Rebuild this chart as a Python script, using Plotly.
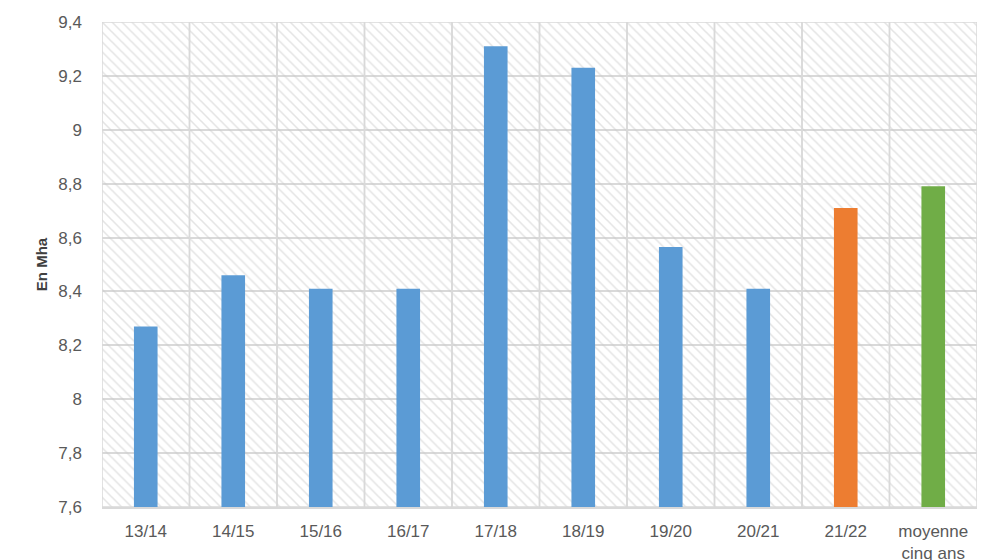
import plotly.graph_objects as go

categories = ["13/14", "14/15", "15/16", "16/17", "17/18", "18/19", "19/20", "20/21", "21/22", "moyenne<br>cinq ans"]
values = [8.27, 8.46, 8.41, 8.41, 9.31, 9.23, 8.565, 8.41, 8.71, 8.79]
bar_colors = ["#5B9BD5"] * 8 + ["#ED7D31", "#70AD47"]
y_min, y_max = 7.6, 9.4
y_ticks = [7.6, 7.8, 8.0, 8.2, 8.4, 8.6, 8.8, 9.0, 9.2, 9.4]
y_tick_labels = ["7,6", "7,8", "8", "8,2", "8,4", "8,6", "8,8", "9", "9,2", "9,4"]
y_title = "En Mha"

font_family = "Liberation Sans, Arial, sans-serif"

fig = go.Figure()

# hatched background cells (one per category)
fig.add_trace(go.Bar(
    x=categories,
    y=[y_max - y_min] * len(categories),
    base=[y_min] * len(categories),
    width=1,
    marker=dict(
        color="rgba(0,0,0,0)",
        line=dict(color="#d9d9d9", width=1.5),
        pattern=dict(shape="\\", fgcolor="#c9c9c9", bgcolor="rgba(0,0,0,0)",
                     size=7, solidity=0.22, fillmode="overlay"),
    ),
    hoverinfo="skip",
    showlegend=False,
))

fig.add_trace(go.Bar(
    x=categories,
    y=[v - y_min for v in values],
    base=[y_min] * len(values),
    width=0.27,
    marker=dict(color=bar_colors, line=dict(width=0)),
    showlegend=False,
))

# the page body adds an 8px offset; the figure is sized to fill the window
fig.update_layout(
    width=992, height=552,
    margin=dict(l=94, r=23, t=14, b=53, autoexpand=False),
    paper_bgcolor="white",
    plot_bgcolor="white",
    barmode="overlay",
    font=dict(family=font_family, size=17, color="#595959"),
)

fig.update_xaxes(
    showgrid=False, automargin=False,
    showline=True, linecolor="#d9d9d9", linewidth=1.5,
    ticks="", ticklabelstandoff=8,
    tickfont=dict(size=17, color="#595959"),
    range=[-0.5, len(categories) - 0.5],
)

fig.update_yaxes(
    range=[y_min, y_max], automargin=False,
    tickvals=y_ticks, ticktext=y_tick_labels,
    showgrid=True, gridcolor="#d9d9d9", gridwidth=1.5,
    zeroline=False, showline=False,
    ticks="", ticklabelstandoff=19,
    tickfont=dict(size=17, color="#595959"),
    title=dict(text="<b>" + y_title + "</b>", font=dict(size=15, color="#404040"), standoff=7),
)

fig.write_html("out.html")
